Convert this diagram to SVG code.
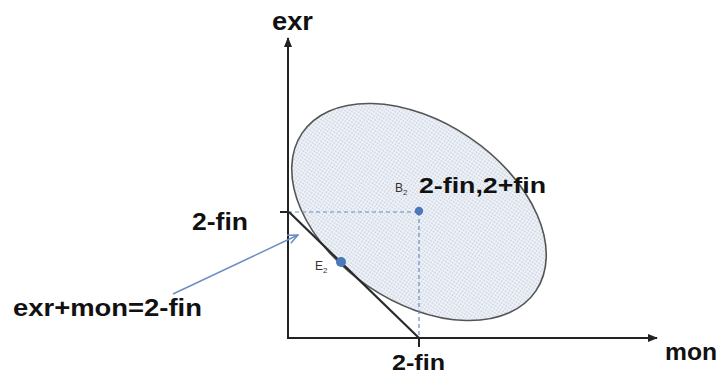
<svg xmlns="http://www.w3.org/2000/svg" width="721" height="375" viewBox="0 0 721 375">
  <style>
    .lbl { font-family: "Liberation Sans", Arial, sans-serif; font-weight: bold; fill: #111; }
    .small { font-family: "Liberation Sans", Arial, sans-serif; fill: #333; }
    .axis { stroke: #222; stroke-width: 2; fill: none; }
    .dash { stroke: #6a8cc0; stroke-width: 1.2; stroke-dasharray: 4 3; fill: none; }
    .dot { fill: #4a78b8; }
  </style>
  <defs>
    <pattern id="dots" width="3" height="3" patternUnits="userSpaceOnUse">
      <rect width="3" height="3" fill="#f0f3f8"/>
      <rect x="0.5" y="0.5" width="1.4" height="1.4" fill="#bcc8d8"/>
    </pattern>
    <marker id="ah" viewBox="0 0 10 10" refX="9" refY="5" markerWidth="10" markerHeight="10" markerUnits="userSpaceOnUse" orient="auto">
      <path d="M0,1 L10,5 L0,9 Z" fill="#222"/>
    </marker>
    <marker id="bh" viewBox="0 0 12 12" refX="11" refY="6" markerWidth="12" markerHeight="12" markerUnits="userSpaceOnUse" orient="auto">
      <path d="M1,1.5 L11,6 L1,10.5" fill="none" stroke="#6b8fc4" stroke-width="1.5"/>
    </marker>
  </defs>
  <rect width="721" height="375" fill="#ffffff"/>

  <g id="ellipse">
    <ellipse cx="419" cy="212" rx="141" ry="90" transform="rotate(34 419 212)" fill="url(#dots)" stroke="#555" stroke-width="1.6"/>
  </g>

  <g id="connectors">
    <line class="dash" x1="288" y1="212" x2="419" y2="212"/>
    <line class="dash" x1="419" y1="212" x2="419" y2="337"/>
    <line class="axis" x1="288" y1="338" x2="288" y2="38" marker-end="url(#ah)"/>
    <line class="axis" x1="287" y1="338" x2="657" y2="338" marker-end="url(#ah)"/>
    <line x1="280" y1="212" x2="288" y2="212" stroke="#222" stroke-width="2"/>
    <line x1="419" y1="338" x2="419" y2="347" stroke="#222" stroke-width="2"/>
    <line x1="289" y1="212" x2="419" y2="338" stroke="#2a2a2a" stroke-width="2.2"/>
    <line x1="173" y1="294" x2="298" y2="235" stroke="#6b8fc4" stroke-width="1.5" marker-end="url(#bh)"/>
  </g>

  <g id="B2">
    <circle class="dot" cx="419" cy="211" r="4.2"/>
    <text class="small" x="395" y="192" font-size="12">B<tspan font-size="8" dy="3">2</tspan></text>
    <text class="lbl" x="419" y="193" font-size="22" textLength="127" lengthAdjust="spacingAndGlyphs">2-fin,2+fin</text>
  </g>

  <g id="E2">
    <circle class="dot" cx="341" cy="262" r="5"/>
    <text class="small" x="315" y="270" font-size="12">E<tspan font-size="8" dy="3">2</tspan></text>
  </g>

  <g id="labels">
    <text class="lbl" x="272" y="30" font-size="26" textLength="41" lengthAdjust="spacingAndGlyphs">exr</text>
    <text class="lbl" x="665" y="360" font-size="24" textLength="52" lengthAdjust="spacingAndGlyphs">mon</text>
    <text class="lbl" x="192" y="230" font-size="24" textLength="56" lengthAdjust="spacingAndGlyphs">2-fin</text>
    <text class="lbl" x="392" y="370" font-size="22" textLength="53" lengthAdjust="spacingAndGlyphs">2-fin</text>
    <text class="lbl" x="13" y="316" font-size="24" textLength="189" lengthAdjust="spacingAndGlyphs">exr+mon=2-fin</text>
  </g>
</svg>
